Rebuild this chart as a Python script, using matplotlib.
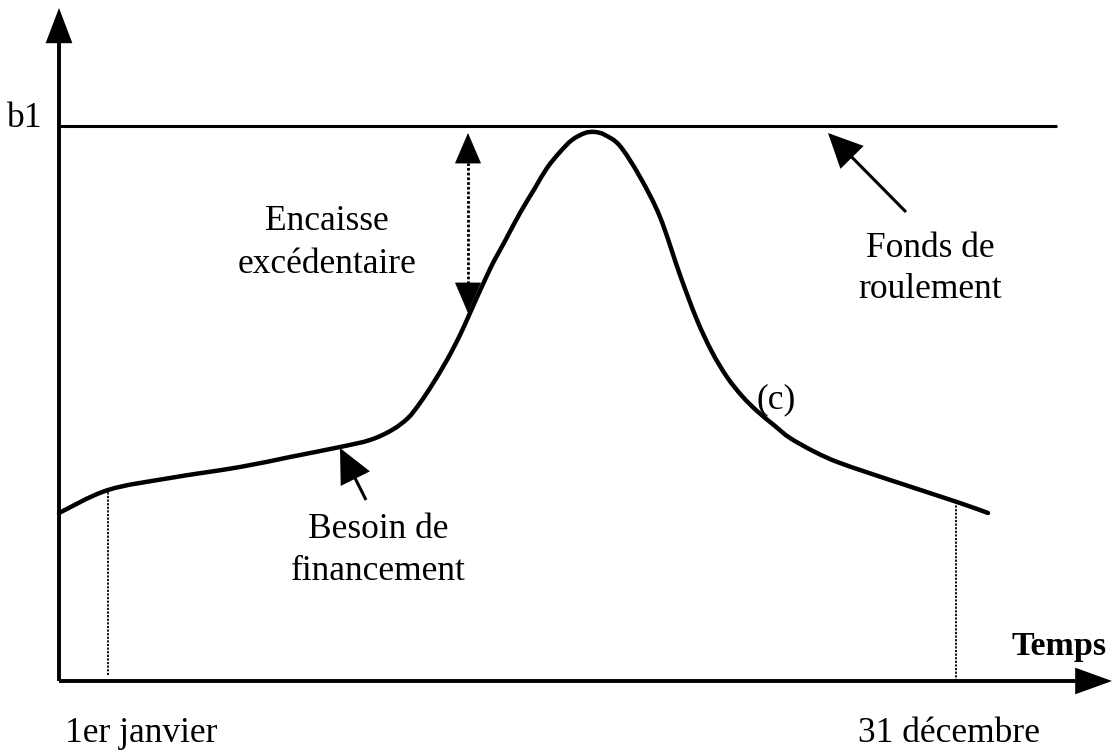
import matplotlib
matplotlib.use("Agg")
import matplotlib.pyplot as plt
from matplotlib.patches import FancyArrowPatch, PathPatch
from matplotlib.path import Path

plt.rcParams['font.family'] = ['Liberation Serif', 'DejaVu Serif']

# ---- data (origin = axis corner) ----
curve_x = [0, 49, 111, 181, 231, 281, 311, 333, 349, 361, 373, 388, 401, 411,
           431, 446, 461, 476, 488, 501, 513, 526, 536, 546, 561, 581, 601,
           621, 638, 653, 668, 683, 698, 716, 731, 756, 781, 831, 898, 929]
curve_y = [168, 191, 203, 214, 224, 234, 241, 251, 263, 278, 296, 321, 346, 368,
           412, 440, 468, 493, 513, 529, 541, 548, 549, 546, 535, 504, 464,
           406, 361, 329, 304, 285, 270, 255, 243, 229, 218, 201, 179, 168]

b1_level = 555
b1_x = [1, 998]
jan_x, dec_x = 49, 897
jan_y, dec_y = 191, 179
gap_x = 409
gap_top, gap_bottom = 548, 368

x_axis_end = 1053
y_axis_end = 673

fonds_arrow = ((847, 469), (769, 548))
besoin_arrow = ((307, 181), (281, 233))

fig = plt.figure(figsize=(11.19, 7.51), dpi=100)
ax = fig.add_axes([0, 0, 1, 1])
ax.set_xlim(-59, 1060)
ax.set_ylim(-70, 681)
ax.axis('off')

FS = 25.5


def arrow(p0, p1, lw=2.2, hl=1.0, hw=0.4, ms=20):
    a = FancyArrowPatch(p0, p1,
                        arrowstyle=f'-|>,head_length={hl},head_width={hw}',
                        mutation_scale=ms, lw=lw, color='black',
                        shrinkA=0, shrinkB=0, joinstyle='miter',
                        capstyle='butt')
    ax.add_patch(a)


def smooth_path(xs, ys):
    # Catmull-Rom through the read points, drawn as cubic Bezier segments
    pts = list(zip(xs, ys))
    verts = [pts[0]]
    codes = [Path.MOVETO]
    n = len(pts)
    for i in range(n - 1):
        p0 = pts[i - 1] if i > 0 else pts[i]
        p1 = pts[i]
        p2 = pts[i + 1]
        p3 = pts[i + 2] if i + 2 < n else pts[i + 1]
        c1 = (p1[0] + (p2[0] - p0[0]) / 6, p1[1] + (p2[1] - p0[1]) / 6)
        c2 = (p2[0] - (p3[0] - p1[0]) / 6, p2[1] - (p3[1] - p1[1]) / 6)
        verts += [c1, c2, p2]
        codes += [Path.CURVE4] * 3
    return Path(verts, codes)


# axes
arrow((0, 0), (0, y_axis_end), lw=2.8, hl=1.0, hw=0.38)
arrow((0, 0), (x_axis_end, 0), lw=2.8, hl=1.05, hw=0.38)

# fonds de roulement level
ax.plot(b1_x, [b1_level, b1_level], color='black', lw=2.2, solid_capstyle='butt')

# curve (c)
ax.add_patch(PathPatch(smooth_path(curve_x, curve_y), facecolor='none',
                       edgecolor='black', lw=3.2, capstyle='round',
                       joinstyle='round'))

# dotted verticals
ax.plot([jan_x, jan_x], [6, jan_y], color='black', lw=1.3, linestyle=(0, (1.2, 0.8)))
ax.plot([dec_x, dec_x], [0, dec_y], color='black', lw=1.3, linestyle=(0, (1.2, 0.8)))

# double dotted arrow (encaisse excédentaire)
ax.plot([gap_x, gap_x], [gap_bottom + 20, gap_top - 20], color='black', lw=2.0,
        linestyle=(0, (1, 0.7)))
arrow((gap_x, gap_top - 29), (gap_x, gap_top), lw=0.5, hl=1.05, hw=0.45)
arrow((gap_x, gap_bottom + 29), (gap_x, gap_bottom), lw=0.5, hl=1.05, hw=0.45)

# annotation arrows
arrow(*fonds_arrow, lw=2.2, hl=1.05, hw=0.5)
arrow(*besoin_arrow, lw=2.2, hl=1.05, hw=0.5)

# texts
ax.text(-17, 554, 'b1', fontsize=FS, ha='right', va='baseline')
ax.text(268, 451, 'Encaisse', fontsize=FS, ha='center', va='baseline')
ax.text(268, 408, 'excédentaire', fontsize=FS, ha='center', va='baseline')
ax.text(871, 424, 'Fonds de', fontsize=FS, ha='center', va='baseline')
ax.text(871, 383, 'roulement', fontsize=FS, ha='center', va='baseline')
ax.text(717, 273, '(c)', fontsize=FS, ha='center', va='baseline')
ax.text(319, 143, 'Besoin de', fontsize=FS, ha='center', va='baseline')
ax.text(319, 101, 'financement', fontsize=FS, ha='center', va='baseline')
ax.text(1000, 26, 'Temps', fontsize=24.5, fontweight='bold', ha='center', va='baseline')
ax.text(6, -61, '1er janvier', fontsize=FS, ha='left', va='baseline')
ax.text(799, -61, '31 décembre', fontsize=FS, ha='left', va='baseline')

fig.savefig('out.png', dpi=100, facecolor='white')
